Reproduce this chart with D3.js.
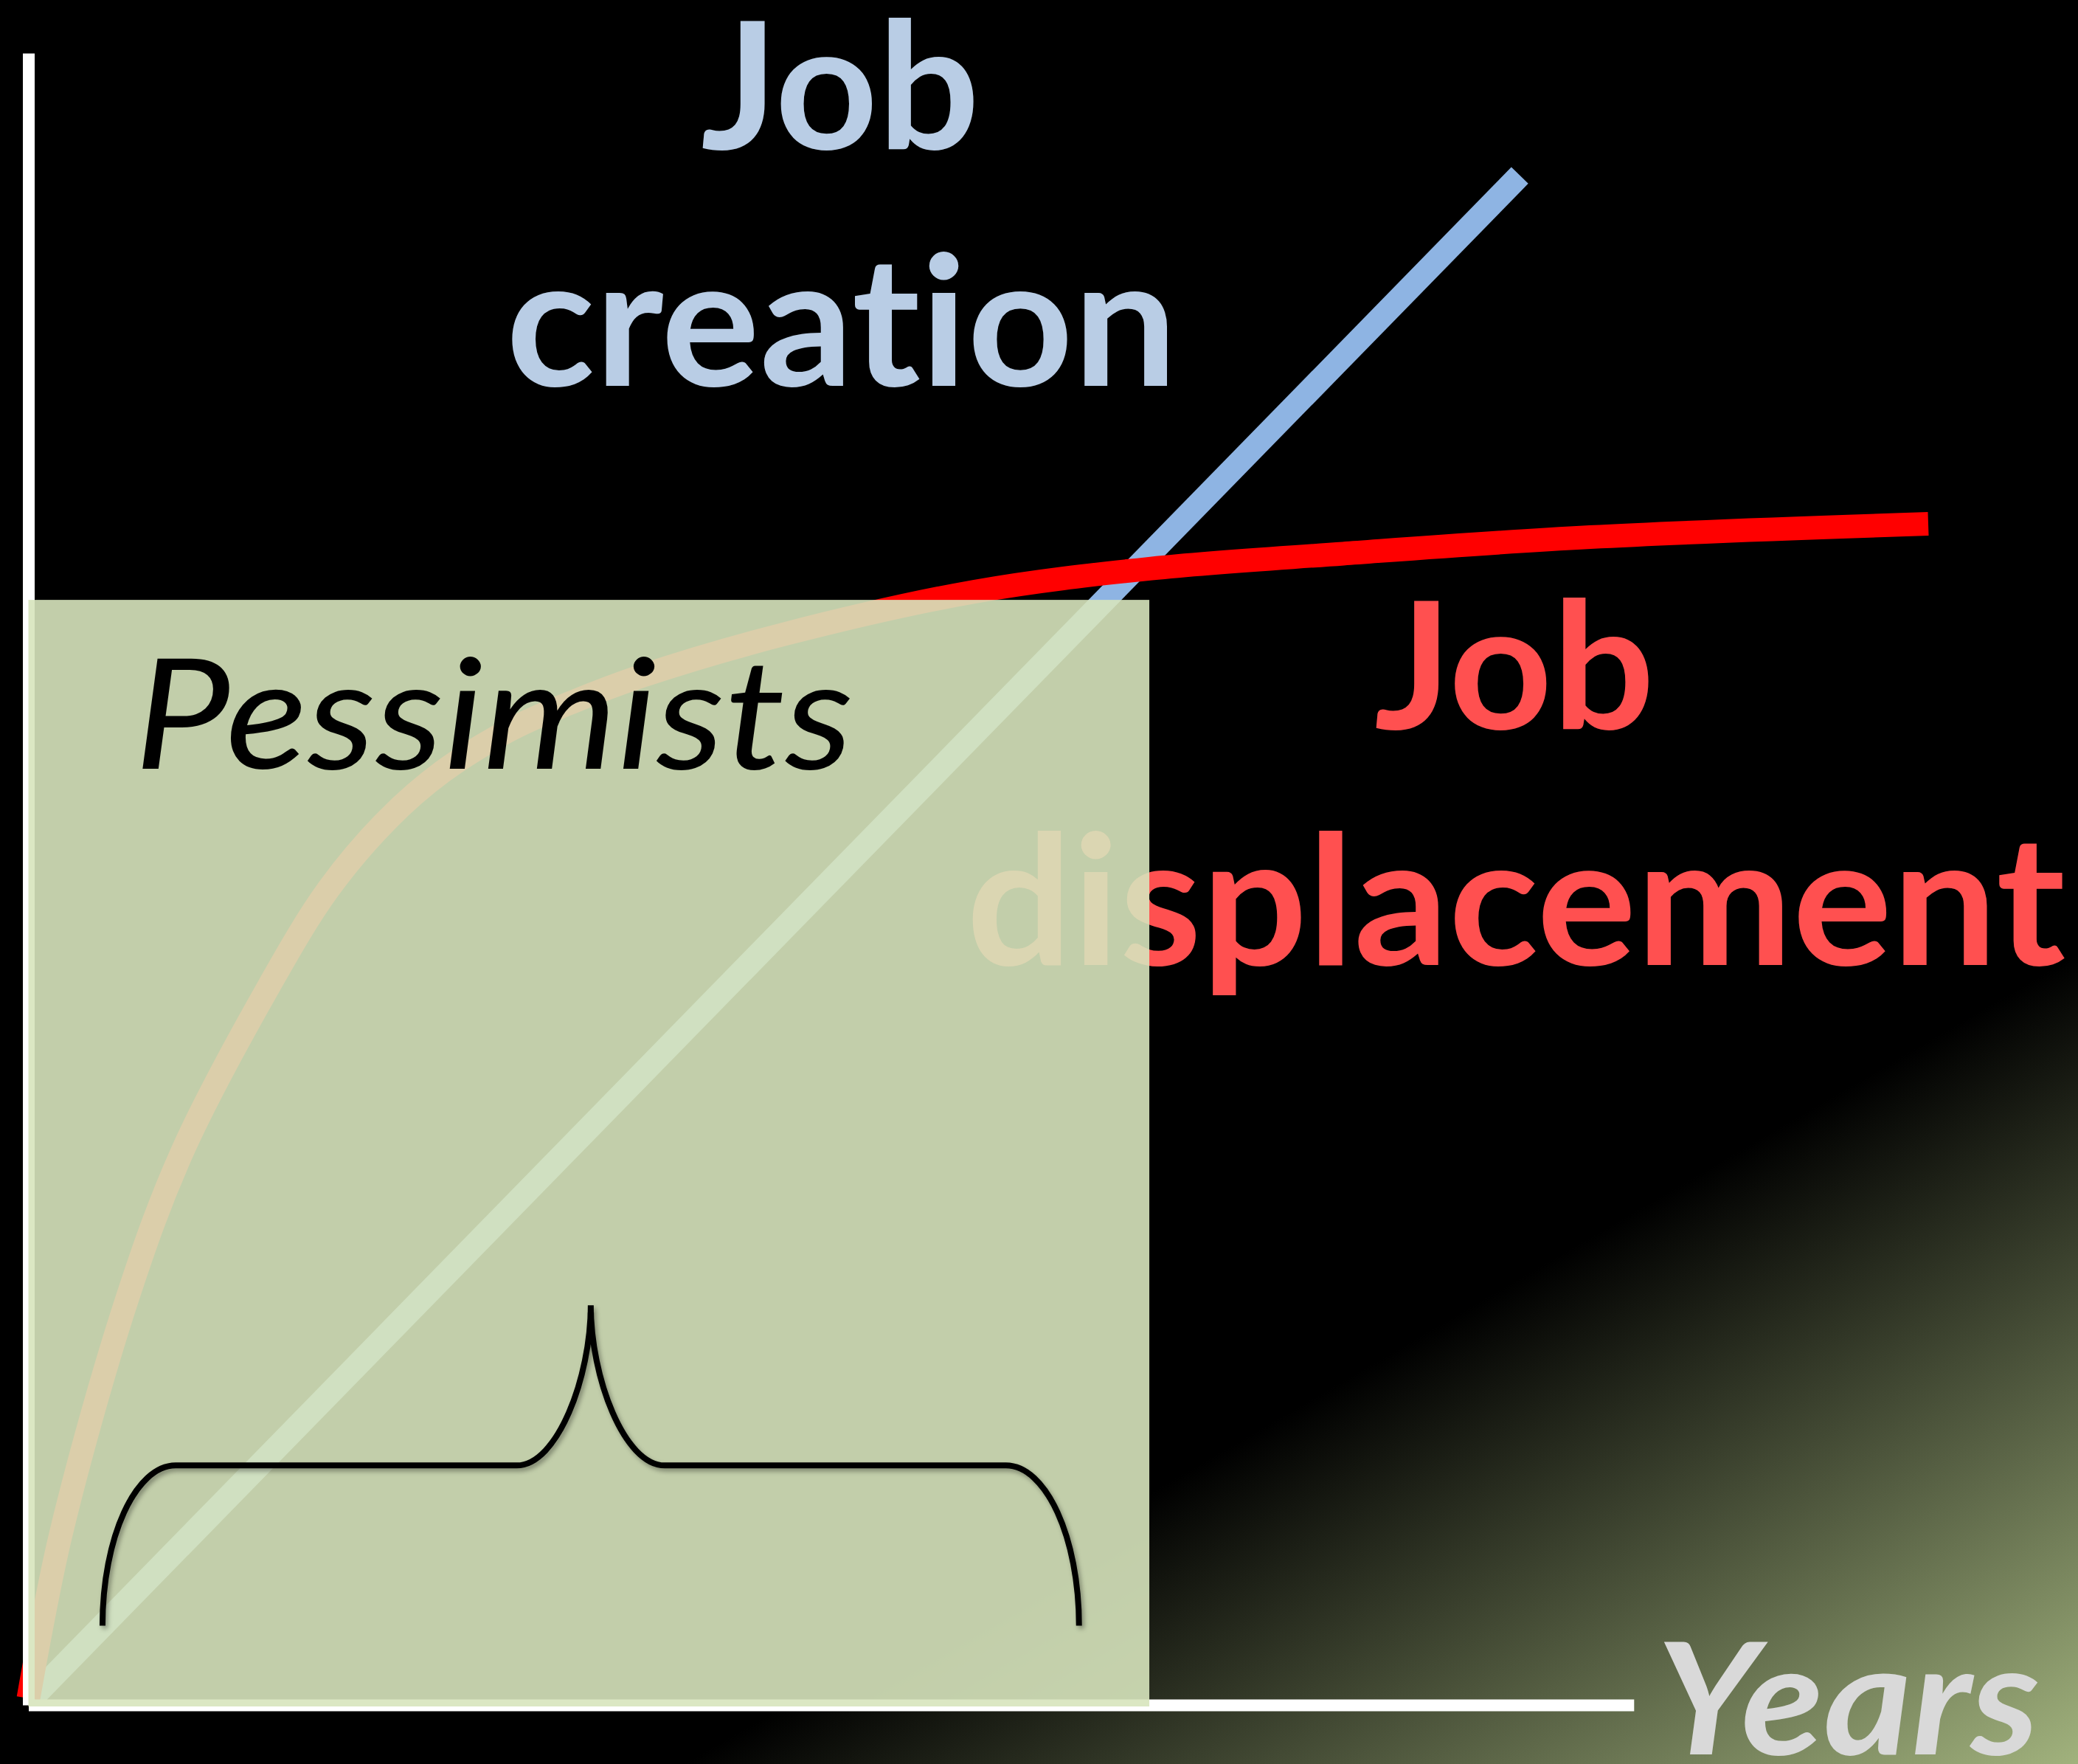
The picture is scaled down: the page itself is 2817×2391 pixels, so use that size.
<!DOCTYPE html>
<html>
<head>
<meta charset="utf-8">
<script src="https://cdn.jsdelivr.net/npm/d3@7"></script>
<style>
  body { margin: 0; background: #000; }
  svg { display: block; }
  text { font-variant-ligatures: none; font-feature-settings: "liga" 0, "clig" 0; }
</style>
</head>
<body>
<div id="chart"></div>
<script>
// years on the x axis, job counts on the y axis (arbitrary units 0-100)
const displacementYears = [0, 1.7, 5.2, 8.1, 12.7, 15.8, 18.9, 21.8, 25.3, 28.6, 32.3, 39.7, 49.8, 59.1, 69.2, 82.2, 100];
const displacementJobs  = [0.4, 10.3, 24.6, 33.5, 43.6, 49.4, 53.6, 56.5, 59.0, 60.7, 62.3, 64.8, 67.4, 68.8, 69.7, 70.7, 71.5];
const creationYears = [0, 78.5];
const creationJobs  = [0.2, 92.6];
const pessimistYears = [0, 59];
const pessimistTop = 66.9;
const axisYearsEnd = 84.5;
// curly brace under the pessimists' window: left end, middle, right end / base, bar, tip
const braceYears = [3.9, 29.6, 55.3];
const braceLevels = [4.8, 14.5, 24.2];

const W = 2817, H = 2391;
const svg = d3.select("#chart").append("svg")
    .attr("width", W)
    .attr("height", H);

const x = d3.scaleLinear().domain([0, 100]).range([38.5, 2614]);
const y = d3.scaleLinear().domain([0, 100]).range([2311, 72]);

const defs = svg.append("defs");
// background: black fading to olive towards the bottom-right corner
const grad = defs.append("linearGradient").attr("id", "bg")
    .attr("gradientUnits", "userSpaceOnUse")
    .attr("x1", 1271).attr("y1", 2191).attr("x2", 1748).attr("y2", 3012);
grad.append("stop").attr("offset", 0).attr("stop-color", "#000");
grad.append("stop").attr("offset", 1).attr("stop-color", "#a1b27d");

const shadow = defs.append("filter").attr("id", "shadow")
    .attr("x", "-10%").attr("y", "-10%").attr("width", "120%").attr("height", "130%");
shadow.append("feDropShadow").attr("dx", 3).attr("dy", 4)
    .attr("stdDeviation", 3).attr("flood-color", "#000").attr("flood-opacity", 0.35);

svg.append("rect").attr("width", W).attr("height", H).attr("fill", "#000");
svg.append("rect").attr("width", W).attr("height", H).attr("fill", "url(#bg)");

const line = d3.line()
    .x(d => x(d[0]))
    .y(d => y(d[1]))
    .curve(d3.curveCatmullRom.alpha(0.5));

svg.append("path")
    .datum(d3.zip(creationYears, creationJobs))
    .attr("d", line)
    .attr("fill", "none")
    .attr("stroke", "#8eb4e3")
    .attr("stroke-width", 32);

svg.append("path")
    .datum(d3.zip(displacementYears, displacementJobs))
    .attr("d", line)
    .attr("fill", "none")
    .attr("stroke", "#ff0000")
    .attr("stroke-width", 32);

function label(t) {
    svg.append("text")
        .attr("x", t.x)
        .attr("y", t.y)
        .attr("textLength", t.w)
        .attr("lengthAdjust", "spacingAndGlyphs")
        .style("font-family", "Lato, 'Open Sans', sans-serif")
        .style("font-size", t.size + "px")
        .style("font-weight", t.bold ? 700 : 400)
        .style("font-style", t.italic ? "italic" : "normal")
        .attr("fill", t.color)
        .text(t.text);
}

label({text: "Job", x: 950, y: 202, w: 378, size: 240, bold: true, color: "#b9cde5"});
label({text: "creation", x: 686, y: 523, w: 910, size: 245, bold: true, color: "#b9cde5"});
label({text: "Job", x: 1863, y: 988, w: 380, size: 240, bold: true, color: "#ff5050"});
label({text: "displacement", x: 1310, y: 1308, w: 1490, size: 245, bold: true, color: "#ff5050"});

// axes without ticks
const xAxisScale = d3.scaleLinear().domain([0, axisYearsEnd]).range([x(0), x(axisYearsEnd)]);
const xAxis = svg.append("g")
    .attr("transform", "translate(0," + y(0) + ")")
    .call(d3.axisBottom(xAxisScale).tickValues([]).tickSizeOuter(0));
const yAxis = svg.append("g")
    .attr("transform", "translate(" + x(0) + ",0)")
    .call(d3.axisLeft(y).tickValues([]).tickSizeOuter(0));
[xAxis, yAxis].forEach(a => a.select(".domain")
    .attr("stroke", "#fff")
    .attr("stroke-width", 16));

// shaded pessimists window
svg.append("rect")
    .attr("x", x(pessimistYears[0]))
    .attr("y", y(pessimistTop))
    .attr("width", x(pessimistYears[1]) - x(pessimistYears[0]))
    .attr("height", y(0) - y(pessimistTop) + 2)
    .attr("fill", "#d7e4bd")
    .attr("fill-opacity", 0.9);

label({text: "Pessimists", x: 182, y: 1042, w: 975, size: 208, bold: false, italic: true, color: "#000"});

// brace
const bx0 = x(braceYears[0]), bxm = x(braceYears[1]), bx1 = x(braceYears[2]);
const by0 = y(braceLevels[0]), byb = y(braceLevels[1]), byt = y(braceLevels[2]);
const corner = x(braceYears[0] + 3.85) - bx0;
const neck = x(braceYears[1]) - x(braceYears[1] - 3.9);
const k = 0.55;
const p = d3.path();
p.moveTo(bx0, by0);
p.bezierCurveTo(bx0, by0 - k * (by0 - byb), bx0 + corner - k * corner, byb, bx0 + corner, byb);
p.lineTo(bxm - neck, byb);
p.bezierCurveTo(bxm - neck + k * neck, byb, bxm, byb - k * (byb - byt), bxm, byt);
p.bezierCurveTo(bxm, byb - k * (byb - byt), bxm + neck - k * neck, byb, bxm + neck, byb);
p.lineTo(bx1 - corner, byb);
p.bezierCurveTo(bx1 - corner + k * corner, byb, bx1, by0 - k * (by0 - byb), bx1, by0);
svg.append("path")
    .attr("d", p.toString())
    .attr("fill", "none")
    .attr("stroke", "#000")
    .attr("stroke-width", 8)
    .attr("filter", "url(#shadow)");

label({text: "Years", x: 2245, y: 2378, w: 520, size: 210, bold: true, italic: true, color: "#d9d9d9"});
</script>
</body>
</html>
